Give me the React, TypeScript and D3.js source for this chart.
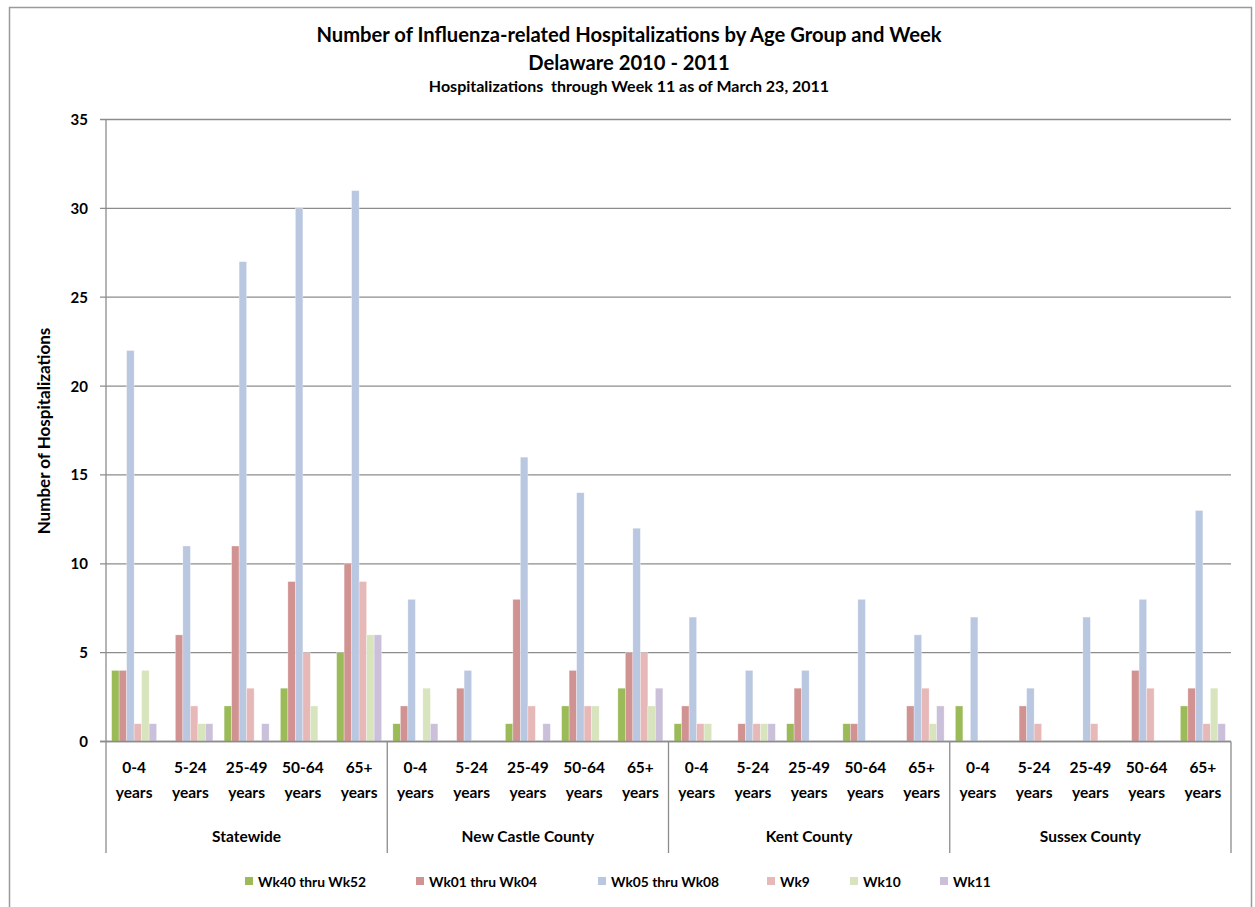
import * as d3 from "d3";

const counties = ["Statewide", "New Castle County", "Kent County", "Sussex County"];
const ageGroups = ["0-4", "5-24", "25-49", "50-64", "65+"];
const seriesNames = ["Wk40 thru Wk52", "Wk01 thru Wk04", "Wk05 thru Wk08", "Wk9", "Wk10", "Wk11"];
const seriesColors = ["#9bbb59", "#d19392", "#b9c7e1", "#e6b9b8", "#d7e4bd", "#cbc0da"];

// one row per county x age group, columns follow seriesNames
const statewide = [
  [4, 4, 22, 1, 4, 1],
  [0, 6, 11, 2, 1, 1],
  [2, 11, 27, 3, 0, 1],
  [3, 9, 30, 5, 2, 0],
  [5, 10, 31, 9, 6, 6]
];
const newCastle = [
  [1, 2, 8, 0, 3, 1],
  [0, 3, 4, 0, 0, 0],
  [1, 8, 16, 2, 0, 1],
  [2, 4, 14, 2, 2, 0],
  [3, 5, 12, 5, 2, 3]
];
const kent = [
  [1, 2, 7, 1, 1, 0],
  [0, 1, 4, 1, 1, 1],
  [1, 3, 4, 0, 0, 0],
  [1, 1, 8, 0, 0, 0],
  [0, 2, 6, 3, 1, 2]
];
const sussex = [
  [2, 0, 7, 0, 0, 0],
  [0, 2, 3, 1, 0, 0],
  [0, 0, 7, 1, 0, 0],
  [0, 4, 8, 3, 0, 0],
  [2, 3, 13, 1, 3, 1]
];
const yTicks = [0, 5, 10, 15, 20, 25, 30, 35];

const width = 1255;
const height = 907;
const left = 106;
const right = 1231;
const top = 119.5;
const bottom = 741.5;
const font = "Lato, 'Open Sans', sans-serif";
const axisGray = "#8c8c8c";
const legendX = [245, 416, 598, 767, 850, 940];

export default function App(): React.JSX.Element {
  const byCounty = [statewide, newCastle, kent, sussex];
  const categories = counties.flatMap((county) => ageGroups.map((age) => `${county}|${age}`));
  const x = d3.scaleBand<string>().domain(categories).range([left, right]);
  const inner = d3
    .scaleBand<string>()
    .domain(seriesNames)
    .range([0, x.bandwidth()])
    .paddingOuter(0.75);
  const y = d3.scaleLinear().domain([0, 35]).range([bottom, top]);
  const countyX = d3.scaleBand<string>().domain(counties).range([left, right]);

  return (
    <svg width={width} height={height} style={{ display: "block", position: "absolute", left: 0, top: 0 }}>
      <rect x={0} y={0} width={width} height={height} fill="#fff" />
      <rect x={9.5} y={7.5} width={1242} height={920} fill="none" stroke="#9a9a9a" strokeWidth={1.5} />

      <g fontFamily={font} fontWeight="bold" textAnchor="middle" fill="#000">
        <text x={629} y={42} fontSize={20.2}>
          Number of Influenza-related Hospitalizations by Age Group and Week
        </text>
        <text x={629} y={70} fontSize={20.2}>
          Delaware 2010 - 2011
        </text>
        <text x={629} y={92} fontSize={16} style={{ whiteSpace: "pre" }}>
          {"Hospitalizations  through Week 11 as of March 23, 2011"}
        </text>
      </g>

      {yTicks.map((t) => (
        <g key={t}>
          <line x1={left - 6} x2={right} y1={y(t)} y2={y(t)} stroke={axisGray} strokeWidth={1.3} />
          <text
            x={88}
            y={y(t) + 5.5}
            textAnchor="end"
            fontFamily={font}
            fontWeight="bold"
            fontSize={15}
          >
            {t}
          </text>
        </g>
      ))}
      <line x1={left} x2={left} y1={top} y2={853} stroke={axisGray} strokeWidth={1.3} />
      {counties.map((c) => (
        <line
          key={c}
          x1={(countyX(c) ?? 0) + countyX.bandwidth()}
          x2={(countyX(c) ?? 0) + countyX.bandwidth()}
          y1={bottom}
          y2={853}
          stroke={axisGray}
          strokeWidth={1.3}
        />
      ))}

      {counties.map((county, ci) =>
        ageGroups.map((age, ai) =>
          seriesNames.map((s, si) => {
            const v = byCounty[ci][ai][si];
            if (v === 0) return null;
            const bx = (x(`${county}|${age}`) ?? 0) + (inner(s) ?? 0);
            return (
              <rect
                key={`${county}-${age}-${s}`}
                x={bx}
                y={y(v)}
                width={inner.bandwidth()}
                height={y(0) - y(v)}
                fill={seriesColors[si]}
                stroke="#fff"
                strokeOpacity={0.5}
                strokeWidth={0.6}
              />
            );
          })
        )
      )}
      <line x1={left - 6} x2={right} y1={bottom} y2={bottom} stroke={axisGray} strokeWidth={1.3} />

      <g fontFamily={font} fontWeight="bold" fontSize={15.5} textAnchor="middle">
        {categories.map((c) => {
          const age = c.split("|")[1];
          const cx = (x(c) ?? 0) + x.bandwidth() / 2;
          return (
            <g key={c}>
              <text x={cx} y={773}>
                {age}
              </text>
              <text x={cx} y={798}>
                years
              </text>
            </g>
          );
        })}
        {counties.map((c) => (
          <text key={c} x={(countyX(c) ?? 0) + countyX.bandwidth() / 2} y={842}>
            {c}
          </text>
        ))}
      </g>

      <text
        transform="translate(50,431) rotate(-90)"
        textAnchor="middle"
        fontFamily={font}
        fontWeight="bold"
        fontSize={17}
      >
        Number of Hospitalizations
      </text>

      <g fontFamily={font} fontWeight="bold" fontSize={13.8}>
        {seriesNames.map((s, i) => (
          <g key={s} transform={`translate(${legendX[i]},877)`}>
            <rect x={0} y={0} width={8} height={8} fill={seriesColors[i]} />
            <text x={13} y={9.5}>
              {s}
            </text>
          </g>
        ))}
      </g>
    </svg>
  );
}
